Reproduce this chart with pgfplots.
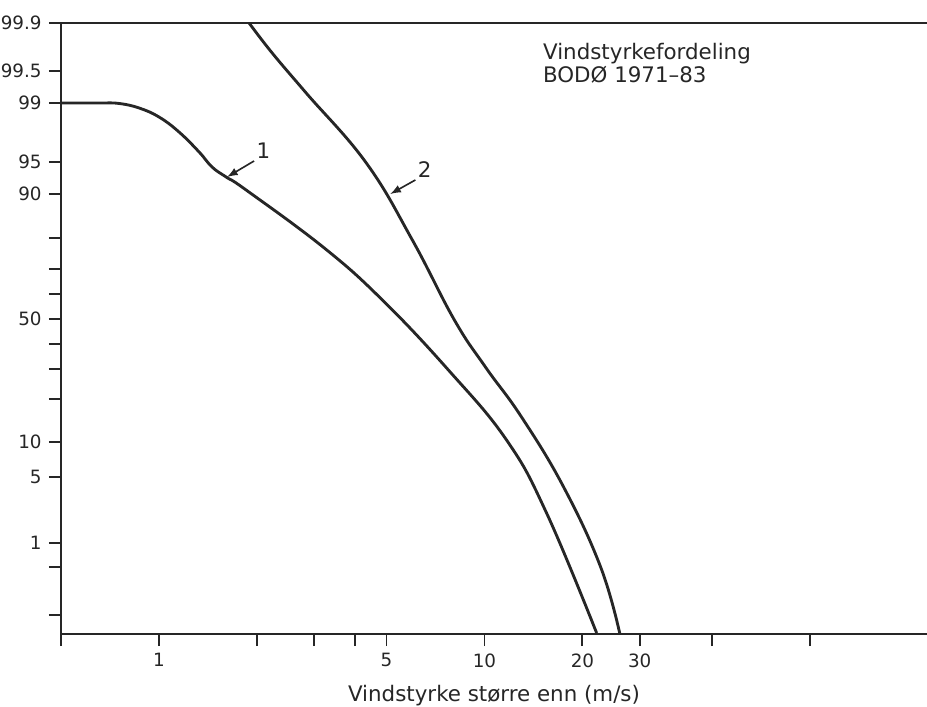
\documentclass[border=0pt]{standalone}
\usepackage{fontspec}
\setmainfont{DejaVu Sans}
\usepackage{pgfplots}
\pgfplotsset{compat=1.18}
\begin{document}
\begin{tikzpicture}
% page frame in the proportions of the reference (1 px = 0.01726 cm)
\path[use as bounding box] (-1.053cm,-1.243cm) rectangle (14.947cm,10.943cm);
\begin{axis}[
    scale only axis, width=14.947cm, height=10.546cm,
    xmode=log, xmin=0.5, xmax=229,
    ymin=-3.281, ymax=3.083,
    axis x line*=bottom, axis y line*=left,
    axis line style={black!85, line width=1pt},
    tick align=outside, major tick length=6pt,
    tick style={black!85, line width=0.9pt},
    xtick={0.5,1,2,3,4,5,10,20,30,50,100},
    xticklabels={,1,,,,5,10,20,30,,},
    minor xtick={},
    % normal probability scale: positions are normal quantiles
    ytick={-3.083,-2.583,-2.333,-1.646,-1.281,-0.833,-0.521,-0.260,0,
           0.260,0.521,0.844,1.302,1.635,2.25,2.583,3.083},
    yticklabels={,,1,5,10,,,,50,,,,90,95,99,99.5,99.9},
    tick label style={font=\fontsize{9}{10}\selectfont, black!85},
    xlabel={Vindstyrke større enn (m/s)},
    xlabel style={font=\fontsize{10.5}{12}\selectfont, black!85,
                  at={(axis description cs:0.5,0)}, anchor=base, yshift=-33pt},
    clip=false,
]
\addplot[black!85, line width=1.4pt, smooth, tension=0.7] coordinates {
  (0.5,2.25) (0.6535,2.25) (0.753,2.245) (0.868,2.198) (1.0,2.104)
  (1.152,1.948) (1.328,1.740) (1.456,1.583) (1.608,1.479) (1.852,1.344)
  (3.219,0.740) (4.857,0.198) (7.748,-0.531) (11.69,-1.260)
  (15.52,-2.021) (22.12,-3.271)
};
\addplot[black!85, line width=1.4pt, smooth, tension=0.7] coordinates {
  (1.892,3.083) (2.227,2.771) (2.833,2.354) (4.335,1.625) (6.004,0.823)
  (8.084,-0.0104) (10.07,-0.5) (13.00,-1.021) (17.51,-1.75) (22.75,-2.583)
  (26.03,-3.271)
};
% top frame line
\draw[black!85, line width=1pt] (rel axis cs:0,1) -- (rel axis cs:1,1);
% curve labels
\draw[black!85, line width=0.8pt, -latex] (axis cs:1.96,1.646) -- (axis cs:1.619,1.479);
\node[font=\fontsize{10.5}{12}\selectfont, black!85, anchor=south west, inner sep=1pt]
  at (axis cs:1.96,1.646) {1};
\draw[black!85, line width=0.8pt, -latex] (axis cs:6.135,1.448) -- (axis cs:5.138,1.302);
\node[font=\fontsize{10.5}{12}\selectfont, black!85, anchor=south west, inner sep=1pt]
  at (axis cs:6.135,1.448) {2};
\node[font=\fontsize{10.5}{9.5}\selectfont, black!85, anchor=north west, align=left,
      inner sep=0pt] at (axis cs:15.1,2.875) {Vindstyrkefordeling\\BODØ 1971–83};
\end{axis}
\end{tikzpicture}
\end{document}
